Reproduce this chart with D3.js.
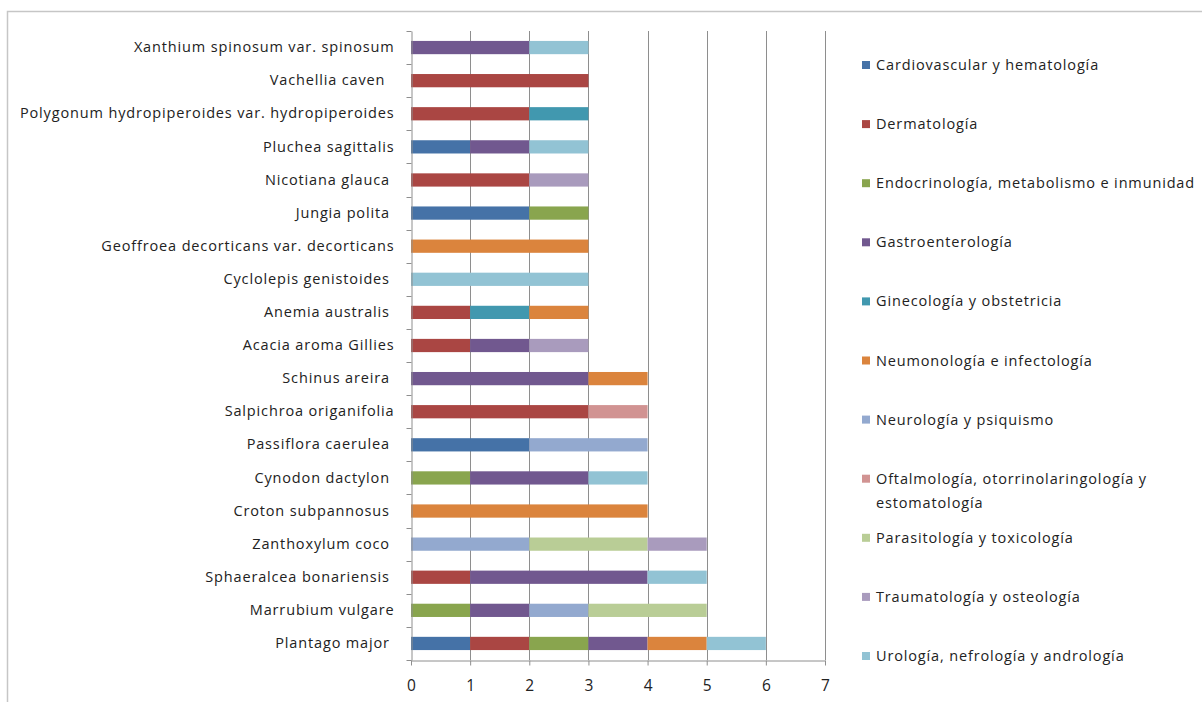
<!DOCTYPE html>
<html>
<head>
<meta charset="utf-8">
<script src="https://cdn.jsdelivr.net/npm/d3@7"></script>
<style>
    body { margin: 0; background: #fff; }
    text { font-family: "Open Sans", Lato, sans-serif; fill: #222; letter-spacing: 0.85px; }
    .tick text { white-space: pre; }
</style>
</head>
<body>
<div id="chart"></div>
<script>
// species, bottom to top (trailing spaces kept as in the original labels)
var species = [
    "Plantago major ", "Marrubium vulgare", "Sphaeralcea bonariensis ", "Zanthoxylum coco ",
    "Croton subpannosus ", "Cynodon dactylon ", "Passiflora caerulea ", "Salpichroa origanifolia",
    "Schinus areira ", "Acacia aroma Gillies", "Anemia australis ", "Cyclolepis genistoides ",
    "Geoffroea decorticans var. decorticans", "Jungia polita ", "Nicotiana glauca ",
    "Pluchea sagittalis", "Polygonum hydropiperoides var. hydropiperoides", "Vachellia caven  ",
    "Xanthium spinosum var. spinosum"
];

var categories = [
    "Cardiovascular y hematología", "Dermatología", "Endocrinología, metabolismo e inmunidad",
    "Gastroenterología", "Ginecología y obstetricia", "Neumonología e infectología",
    "Neurología y psiquismo", "Oftalmología, otorrinolaringología y estomatología",
    "Parasitología y toxicología", "Traumatología y osteología", "Urología, nefrología y andrología"
];

var colors = ["#4572a7", "#aa4643", "#89a54e", "#71588f", "#4198af", "#db843d",
    "#93a9cf", "#d19392", "#b9cd96", "#a99bbd", "#92c3d4"];

// one array per category, values in species order
var cardio    = [1, 0, 0, 0, 0, 0, 2, 0, 0, 0, 0, 0, 0, 2, 0, 1, 0, 0, 0];
var derma     = [1, 0, 1, 0, 0, 0, 0, 3, 0, 1, 1, 0, 0, 0, 2, 0, 2, 3, 0];
var endo      = [1, 1, 0, 0, 0, 1, 0, 0, 0, 0, 0, 0, 0, 1, 0, 0, 0, 0, 0];
var gastro    = [1, 1, 3, 0, 0, 2, 0, 0, 3, 1, 0, 0, 0, 0, 0, 1, 0, 0, 2];
var gineco    = [0, 0, 0, 0, 0, 0, 0, 0, 0, 0, 1, 0, 0, 0, 0, 0, 1, 0, 0];
var neumo     = [1, 0, 0, 0, 4, 0, 0, 0, 1, 0, 1, 0, 3, 0, 0, 0, 0, 0, 0];
var neuro     = [0, 1, 0, 2, 0, 0, 2, 0, 0, 0, 0, 0, 0, 0, 0, 0, 0, 0, 0];
var oftal     = [0, 0, 0, 0, 0, 0, 0, 1, 0, 0, 0, 0, 0, 0, 0, 0, 0, 0, 0];
var parasito  = [0, 2, 0, 2, 0, 0, 0, 0, 0, 0, 0, 0, 0, 0, 0, 0, 0, 0, 0];
var trauma    = [0, 0, 0, 1, 0, 0, 0, 0, 0, 1, 0, 0, 0, 0, 1, 0, 0, 0, 0];
var uro       = [1, 0, 1, 0, 0, 1, 0, 0, 0, 0, 0, 3, 0, 0, 0, 1, 0, 0, 1];

var seriesValues = [cardio, derma, endo, gastro, gineco, neumo, neuro, oftal, parasito, trauma, uro];
var xTicks = [0, 1, 2, 3, 4, 5, 6, 7];

var svgWidth = 1202;
var svgHeight = 702;

var margin = { top: 31, right: 377, bottom: 42, left: 411 };
var width = svgWidth - margin.left - margin.right;
var height = svgHeight - margin.top - margin.bottom;

var svg = d3.select("#chart")
    .append("svg")
    .attr("width", svgWidth)
    .attr("height", svgHeight);

// chart border (only top and left edges visible in the picture)
svg.append("path")
    .attr("d", "M7.5," + svgHeight + "V11.5H" + svgWidth)
    .attr("fill", "none")
    .attr("stroke", "#c6c6c6")
    .attr("stroke-width", 1.5);

var chartGroup = svg.append("g")
    .attr("transform", `translate(${margin.left}, ${margin.top})`);

// build rows for d3.stack
var rows = species.map(function(s, i) {
    var row = { name: s };
    categories.forEach(function(c, j) { row[c] = seriesValues[j][i]; });
    return row;
});

var stacked = d3.stack().keys(categories)(rows);

var xLinearScale = d3.scaleLinear()
    .domain([0, 7])
    .range([0, width]);

var yBandScale = d3.scaleBand()
    .domain(species)
    .range([height, 0])
    .paddingInner(0.6)
    .paddingOuter(0.3);

// vertical gridlines
chartGroup.append("g")
    .selectAll("line")
    .data(xTicks.slice(1))
    .enter()
    .append("line")
    .attr("x1", d => Math.round(xLinearScale(d)) + 0.5)
    .attr("x2", d => Math.round(xLinearScale(d)) + 0.5)
    .attr("y1", 0)
    .attr("y2", height)
    .attr("stroke", "#8e8e8e")
    .attr("stroke-width", 1);

// stacked bars
chartGroup.selectAll(".series")
    .data(stacked)
    .enter()
    .append("g")
    .attr("class", "series")
    .attr("fill", (d, i) => colors[i])
    .selectAll("rect")
    .data(d => d.filter(p => p[1] > p[0]))
    .enter()
    .append("rect")
    .attr("x", d => xLinearScale(d[0]))
    .attr("width", d => xLinearScale(d[1]) - xLinearScale(d[0]))
    .attr("y", d => yBandScale(d.data.name))
    .attr("height", yBandScale.bandwidth());

// x axis
var bottomAxis = d3.axisBottom(xLinearScale)
    .tickValues(xTicks)
    .tickFormat(d3.format("d"))
    .tickSizeInner(5)
    .tickSizeOuter(0)
    .tickPadding(14);

var xAxis = chartGroup.append("g")
    .attr("transform", `translate(0, ${height + 0.5})`)
    .call(bottomAxis);

xAxis.selectAll("text")
    .attr("font-size", "15.5px")
    .style("letter-spacing", "0px");

// y axis, tick marks sit on category boundaries
var leftAxis = d3.axisLeft(yBandScale)
    .tickSize(0)
    .tickPadding(17);

var yAxis = chartGroup.append("g")
    .attr("transform", "translate(0.5, 0)")
    .call(leftAxis);

yAxis.selectAll("text").attr("font-size", "14.5px");

yAxis.selectAll(".boundary")
    .data(d3.range(species.length + 1))
    .enter()
    .append("line")
    .attr("x1", -5)
    .attr("x2", 0)
    .attr("y1", d => Math.round(height - d * height / species.length) + 0.5)
    .attr("y2", d => Math.round(height - d * height / species.length) + 0.5)
    .attr("stroke", "#8e8e8e");

svg.selectAll(".domain, .tick line").attr("stroke", "#8e8e8e");

// legend
var legendY = d3.scalePoint()
    .domain(categories)
    .range([65, 656]);

var legend = svg.append("g")
    .selectAll("g")
    .data(categories)
    .enter()
    .append("g")
    .attr("transform", d => `translate(862, ${legendY(d)})`);

legend.append("rect")
    .attr("x", 0)
    .attr("y", -4)
    .attr("width", 8)
    .attr("height", 8)
    .attr("fill", (d, i) => colors[i]);

legend.append("text")
    .attr("x", 14)
    .attr("dy", "0.35em")
    .attr("font-size", "14.5px")
    .each(function(d) {
        var t = d3.select(this);
        // the long entry wraps onto two lines
        if (d.indexOf("Oftalmología") === 0) {
            t.append("tspan").attr("x", 14).text("Oftalmología, otorrinolaringología y");
            t.append("tspan").attr("x", 14).attr("dy", 24).text("estomatología");
        } else {
            t.text(d);
        }
    });
</script>
</body>
</html>
